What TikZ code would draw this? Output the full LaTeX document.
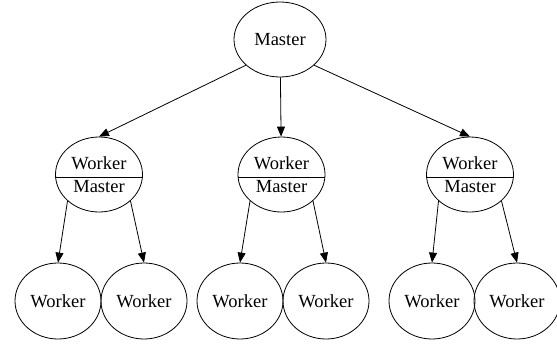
\documentclass[tikz,border=0pt]{standalone}
\usepackage{fontspec}
\setmainfont{Liberation Serif}
\usetikzlibrary{shapes.geometric, arrows.meta}
\tikzstyle{worker} = [ellipse, minimum width=86pt, minimum height=76pt, inner sep=0pt, text centered, draw=black, line width=0.8pt, font=\fontsize{18.5}{23}\selectfont]
\tikzstyle{workmaster} = [worker, minimum width=87pt, minimum height=75pt, align=center]
\tikzstyle{arrow} = [line width=0.8pt, -{Triangle[length=10pt, width=8pt]}]

\begin{document}
\begin{tikzpicture}[x=1pt, y=-1pt, node distance=135pt]
			\useasboundingbox (0,0) rectangle (557,343);
			\node[worker, minimum width=92pt, minimum height=75pt] (master) at (280,39.5) {Master};
			
			\node[workmaster, below of=master, xshift=-181pt] (wm1) {Worker\\Master};
			\node[workmaster, below of=master, xshift=1.5pt] (wm2) {Worker\\Master};
			\node[workmaster, below of=master, xshift=190pt] (wm3) {Worker\\Master};
			
			\node[worker, node distance=126.5pt, below of=wm1, xshift=-41pt] (w1) {Worker};
			\node[worker, node distance=126.5pt, below of=wm1, xshift=45pt] (w2) {Worker};
			\node[worker, node distance=126.5pt, below of=wm2, xshift=-41.5pt] (w3) {Worker};
			\node[worker, node distance=126.5pt, below of=wm2, xshift=44.5pt] (w4) {Worker};
			\node[worker, node distance=126.5pt, below of=wm3, xshift=-38pt] (w5) {Worker};
			\node[worker, node distance=126.5pt, below of=wm3, xshift=47pt] (w6) {Worker};
			
			% divider between the two roles
			\foreach \n in {wm1, wm2, wm3}
				\draw [line width=0.8pt] ([yshift=-2.5pt]\n.west) -- ([yshift=-2.5pt]\n.east);
			
			\draw [arrow] (master.217) -- (wm1.north);
			\draw [arrow] (master) -- (wm2);
			\draw [arrow] (master.323) -- (wm3.north);
			
			\draw [arrow] (wm1.220) -- (w1.north);
			\draw [arrow] (wm1.320) -- (w2.north);
			\draw [arrow] (wm2.220) -- (w3.north);
			\draw [arrow] (wm2.320) -- (w4.north);
			\draw [arrow] (wm3.220) -- (w5.north);
			\draw [arrow] (wm3.320) -- (w6.north);
			
		\end{tikzpicture}
\end{document}
